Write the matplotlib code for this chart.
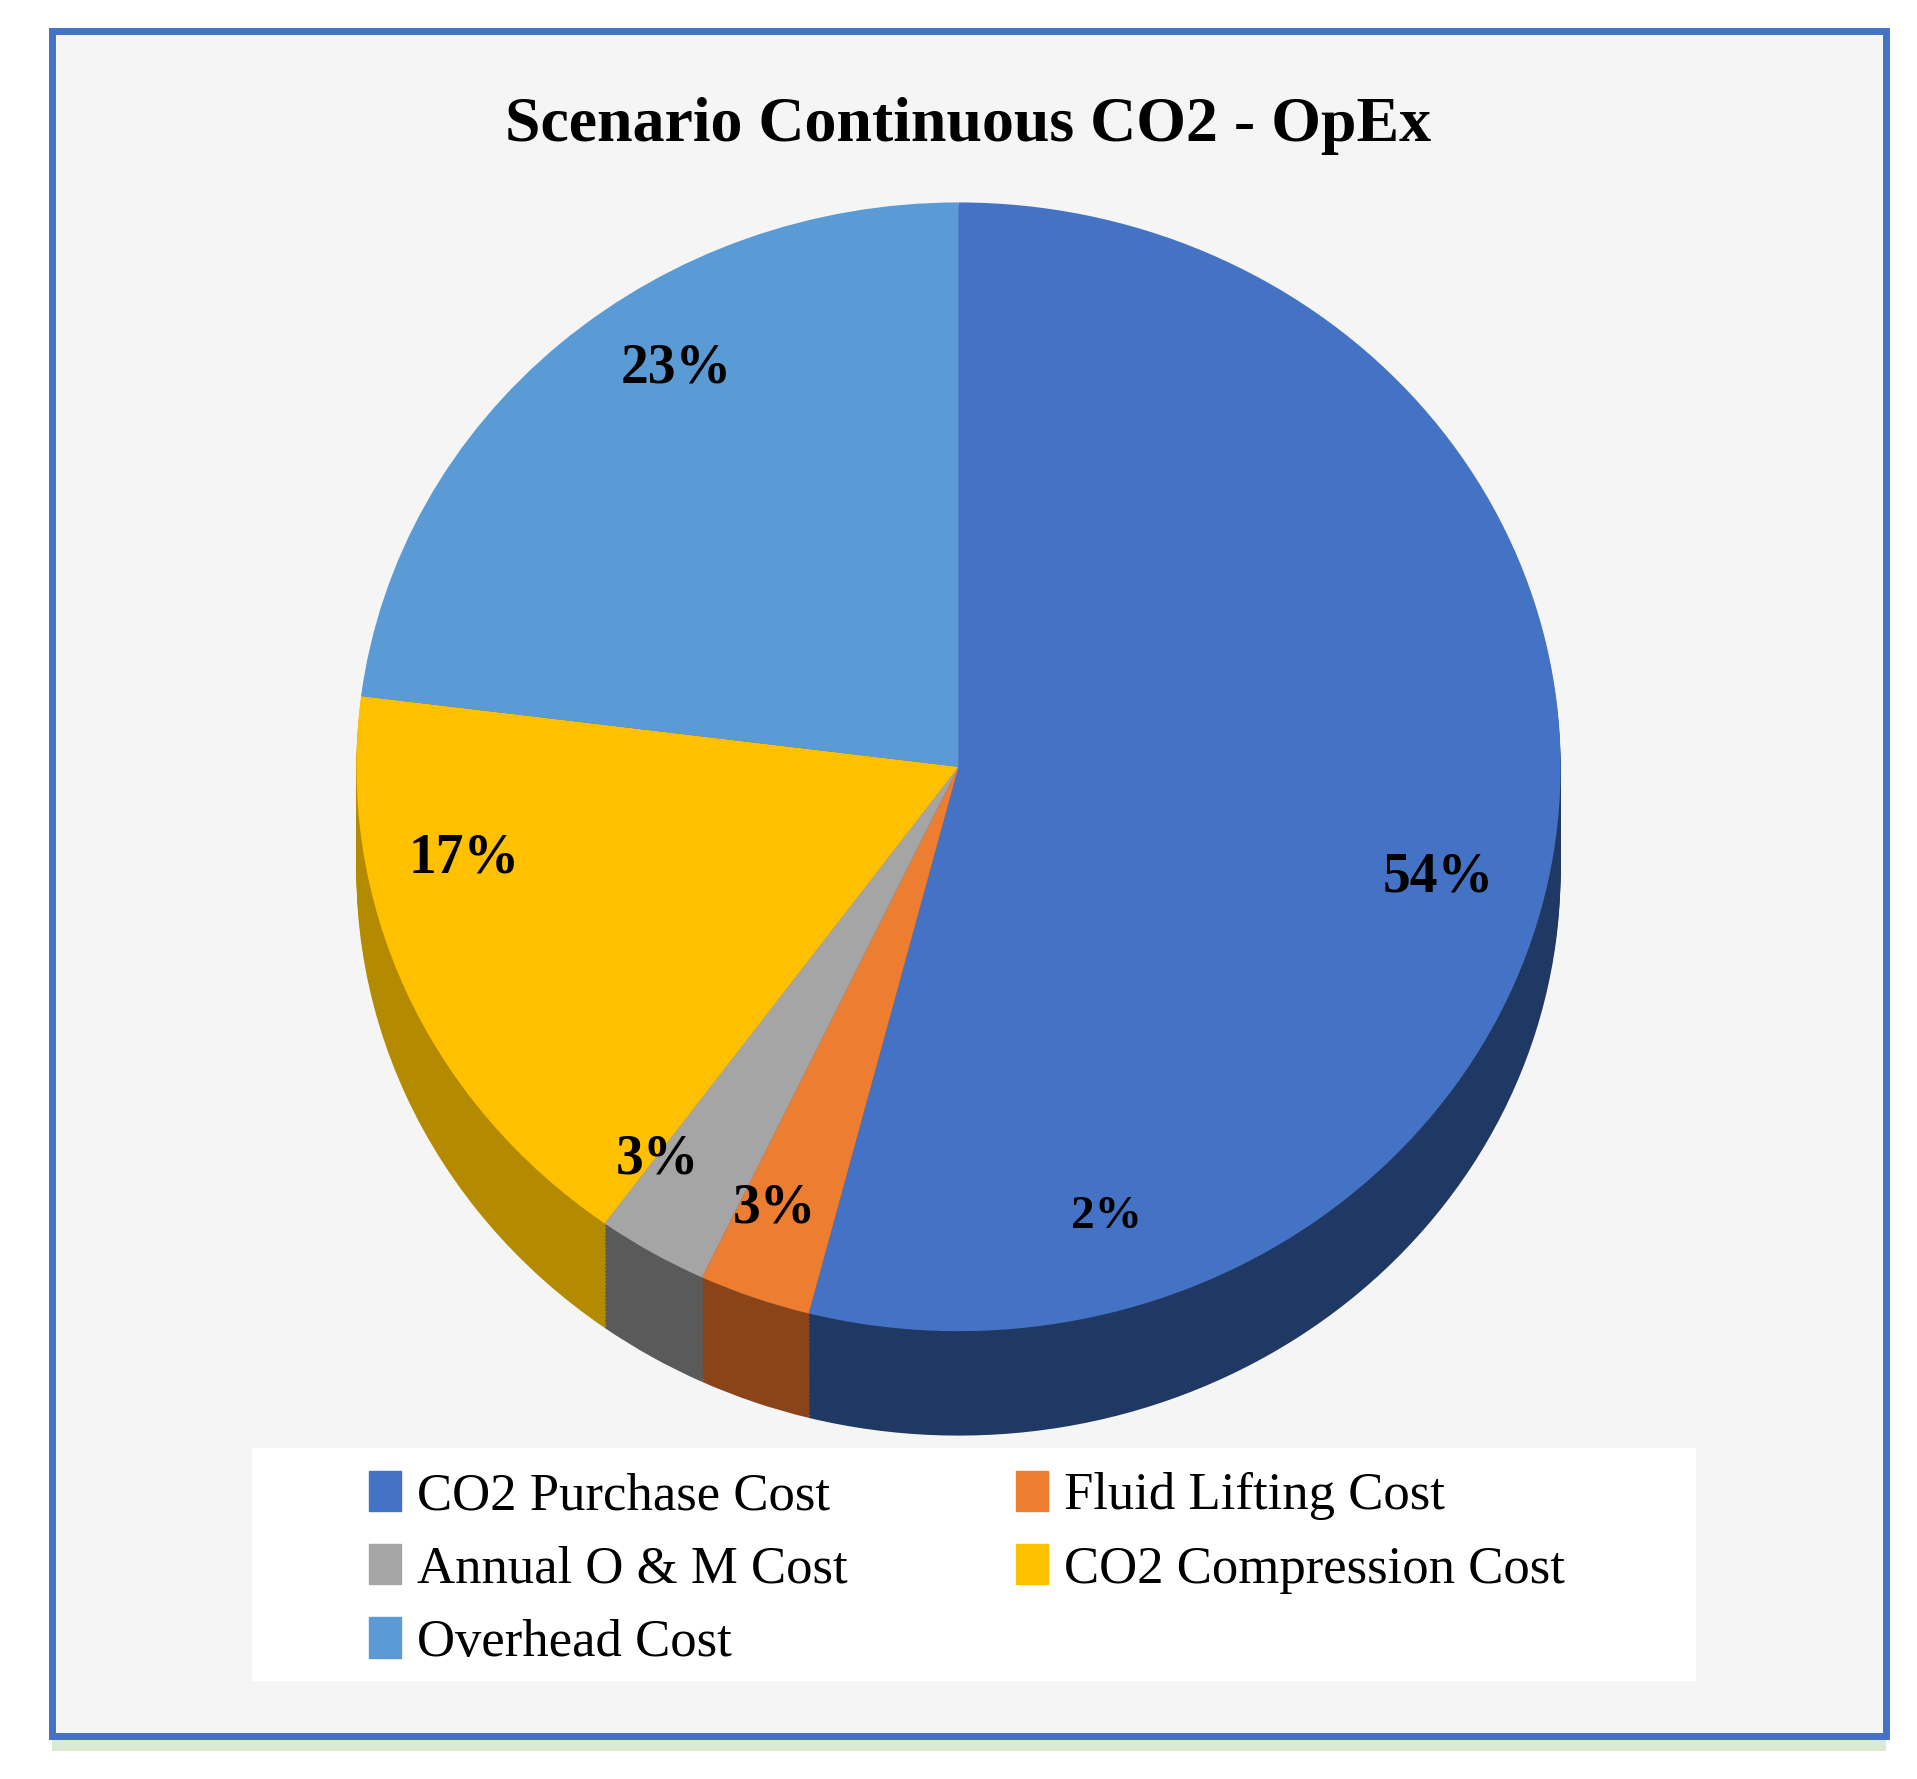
import matplotlib.pyplot as plt
import numpy as np
from matplotlib.patches import Rectangle

categories = ["CO2 Purchase Cost", "Fluid Lifting Cost", "Annual O & M Cost",
              "CO2 Compression Cost", "Overhead Cost"]
values = [54, 3, 3, 17, 23]
colors = ["#4472c4", "#ed7d31", "#a5a5a5", "#ffc000", "#5b9bd5"]
side_colors = ["#1f3864", "#8a4417", "#5a5a5a", "#b48a00", "#3f73a3"]
# label positions in reference pixel coords
label_pos = [(1170, 715), (630, 985), (535, 945), (378, 700), (550, 300)]

plt.rcParams["hatch.color"] = "#dddddd"
plt.rcParams["hatch.linewidth"] = 1.0

W, H = 1560, 1450  # reference display units
fig = plt.figure(figsize=(19.17, 17.79), dpi=100)
fig.patch.set_facecolor("white")

# background panel and frame
bg = fig.add_axes([0, 0, 1, 1])
bg.set_xlim(0, W)
bg.set_ylim(H, 0)
bg.axis("off")
bg.add_patch(Rectangle((42, 25), 1493, 1390, facecolor="#f5f5f5", edgecolor="none",
                       hatch="\\\\\\", zorder=1))
bg.add_patch(Rectangle((42, 25), 1493, 1390, facecolor="none", edgecolor="#4472c4",
                       linewidth=5, zorder=1.5))
bg.add_patch(Rectangle((42, 1415), 1493, 12, facecolor="#d9ead3", edgecolor="none"))
bg.add_patch(Rectangle((205, 1180), 1175, 190, facecolor="white", edgecolor="none", zorder=2))
bg.text(788, 103, "Scenario Continuous CO2 - OpEx", ha="center", va="center",
        fontsize=46, fontweight="bold", family="Liberation Serif")

# pie axes
depth = 0.185
x0, x1 = 290 / W, 1270 / W
top = 1 - 165 / H
ry_frac = 460 / H
ax = fig.add_axes([x0, top - ry_frac * (2 + depth), x1 - x0, ry_frac * (2 + depth)])

for d in np.linspace(depth, 0.005, 30):
    ax.pie(values, colors=side_colors, startangle=90, counterclock=False,
           center=(0, -d), radius=1, frame=True)
ax.pie(values, colors=colors, startangle=90, counterclock=False, center=(0, 0),
       radius=1, frame=True)
ax.set_aspect("auto")
ax.set_xlim(-1, 1)
ax.set_ylim(-1 - depth, 1)
ax.axis("off")

# overlay for the data labels
ov = fig.add_axes([0, 0, 1, 1])
ov.set_xlim(0, W)
ov.set_ylim(H, 0)
ov.axis("off")
for v, (px, py) in zip(values, label_pos):
    ov.text(px, py, f"{v}%", ha="center", va="center", fontsize=40,
            fontweight="bold", family="Liberation Serif")
ov.text(900, 992, "2%", ha="center", va="center", fontsize=34,
        fontweight="bold", family="Liberation Serif")

handles = [Rectangle((0, 0), 1, 1, color=c) for c in colors]
order = [0, 2, 4, 1, 3]
fig.legend([handles[i] for i in order], [categories[i] for i in order], ncol=2,
           loc="upper left", bbox_to_anchor=(262 / W, 1 - 1160 / H), frameon=False,
           prop=dict(family="Liberation Serif", size=38), handlelength=0.6,
           handleheight=0.8, handletextpad=0.3, columnspacing=3.2, labelspacing=0.45)

fig.savefig("out.png", dpi=100)
